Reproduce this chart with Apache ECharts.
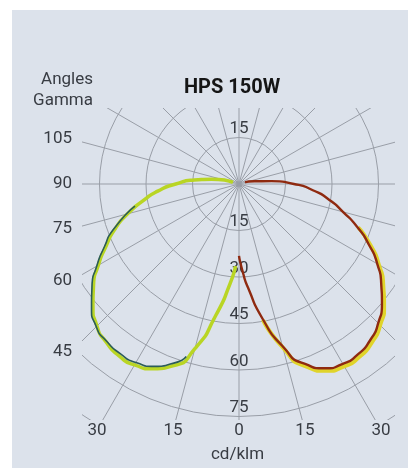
<!DOCTYPE html>
<html>
<head>
<meta charset="utf-8">
<script src="https://cdn.jsdelivr.net/npm/echarts@6/dist/echarts.min.js"></script>
<style>
    html, body { margin: 0; padding: 0; background: #ffffff; }
    #main { width: 408px; height: 468px; }
</style>
</head>
<body>
<div id="main"></div>
<script>
// gamma = angle from nadir (deg), values in cd/klm
var leftGamma  = [105, 100, 95, 90, 85, 80, 75, 70, 65, 60, 55, 50, 45, 40, 35, 30, 25, 20, 15, 10, 5, 2.5];
var leftMain   = [2, 9, 14.5, 20.4, 26.3, 31.5, 37.2, 42.6, 47.3, 52.4, 57.3, 61.5, 64.8, 66.6, 67.6, 67.4, 65.8, 62.4, 55, 43, 32, 26.5];
var leftDarkGamma = [78, 70, 65, 60, 55, 50, 45, 40, 35, 30, 25, 20, 17];
var leftDark      = [34.3, 43.2, 47.9, 53.0, 57.9, 62.1, 65.1, 66.3, 66.8, 66.5, 64.9, 61.5, 58.2];

var rightGamma = [105, 100, 95, 90, 85, 80, 75, 70, 65, 60, 55, 50, 45, 40, 35, 30, 25, 20, 15, 10, 5, 2.5, 0];
var rightMain  = [2, 5, 10.5, 17.7, 24.1, 29.6, 34.7, 40.6, 46.2, 51.5, 56.0, 60.2, 63.5, 65.8, 67.0, 67.0, 65.6, 61.7, 54.1, 44.3, 33.6, 28.5, 23.2];
var rightHaloGamma = [70, 65, 60, 55, 50, 45, 40, 35, 30, 25, 20, 15, 10];
var rightHalo      = [40.9, 46.8, 52.1, 56.8, 61.1, 64.4, 66.7, 67.9, 67.9, 66.5, 62.5, 54.6, 44.5];

// tick labels
var radiusTicks  = [15, 30, 45, 60, 75];
var leftAngles   = [105, 90, 75, 60, 45];      // "Angles Gamma" column
var bottomAngles = [-30, -15, 0, 15, 30];      // row above cd/klm

// layout
var CX = 239, CY = 184, PX = 3.1;              // centre, px per cd/klm
var RMAX = 90;
var BOX = { left: 82, top: 108, right: 395, bottom: 420 };  // grid is cut to this box
var BG = '#dce2eb';
var TXT = '#383c43';
var GRID = '#999ea7';
var COL_X = (CX - 71) / PX;                    // where left labels sit
var ROW_Y = (430 - CY) / PX;                   // where bottom labels sit

var rad = Math.PI / 180;
var leftPos = leftAngles.map(function (g) { return -COL_X / Math.tan(g * rad); });
var bottomPos = bottomAngles.map(function (g) { return ROW_Y * Math.tan(g * rad); });

function nearest(list, v) {
    var best = 0;
    for (var i = 1; i < list.length; i++) {
        if (Math.abs(list[i] - v) < Math.abs(list[best] - v)) best = i;
    }
    return best;
}

var chartDom = document.getElementById('main');
var myChart = echarts.init(chartDom, null, { renderer: 'canvas' });
var option;

var font = 'Roboto, "DejaVu Sans", sans-serif';

option = {
    backgroundColor: BG,
    animation: false,
    title: {
        text: 'HPS 150W',
        left: 184,
        top: 78,
        padding: 0,
        z: 20,
        textStyle: { fontFamily: font, fontSize: 20, fontWeight: 'bold', color: '#151515' }
    },
    polar: [
        { center: [CX, CY], radius: RMAX * PX },
        { center: [CX, CY], radius: RMAX * PX }
    ],
    angleAxis: [
        {
            polarIndex: 0,
            type: 'value',
            min: 0,
            max: 360,
            interval: 15,
            startAngle: 270,
            clockwise: true,
            z: 1,
            axisLine: { show: false },
            axisTick: { show: false },
            axisLabel: { show: false },
            splitLine: { show: true, lineStyle: { color: GRID, width: 1 } }
        },
        {
            polarIndex: 1,
            type: 'value',
            min: 0,
            max: 360,
            startAngle: 90,
            show: false
        }
    ],
    radiusAxis: [
        {
            polarIndex: 0,
            type: 'value',
            min: 0,
            max: RMAX,
            interval: 15,
            z: 1,
            axisLine: { show: false },
            axisTick: { show: false },
            splitLine: { show: true, lineStyle: { color: GRID, width: 1 } },
            axisLabel: {
                margin: 0,
                align: 'center',
                verticalAlign: 'bottom',
                fontFamily: font,
                fontSize: 17,
                color: TXT,
                formatter: function (v) { return radiusTicks.indexOf(v) >= 0 ? String(v) : ''; }
            }
        },
        {
            polarIndex: 1,
            type: 'value',
            min: 0,
            max: RMAX,
            interval: 15,
            z: 1,
            axisLine: { show: false },
            axisTick: { show: false },
            splitLine: { show: false },
            axisLabel: {
                margin: 0,
                align: 'center',
                verticalAlign: 'bottom',
                fontFamily: font,
                fontSize: 17,
                color: TXT,
                formatter: function (v) { return v === radiusTicks[0] ? String(v) : ''; }
            }
        }
    ],
    // invisible cartesian frame, only used to place the gamma labels
    grid: {
        left: 80,
        top: BOX.top,
        right: 408 - BOX.right,
        bottom: 468 - BOX.bottom,
        outerBoundsMode: 'none'
    },
    xAxis: {
        type: 'value',
        min: (80 - CX) / PX,
        max: (BOX.right - CX) / PX,
        z: 20,
        axisLine: { show: false },
        axisTick: { show: false },
        splitLine: { show: false },
        axisLabel: {
            customValues: bottomPos,
            margin: 2,
            fontFamily: font,
            fontSize: 17,
            color: TXT,
            formatter: function (v) { return String(Math.abs(bottomAngles[nearest(bottomPos, v)])); }
        },
        name: 'cd/klm',
        nameLocation: 'middle',
        nameGap: 26,
        nameTextStyle: { fontFamily: font, fontSize: 17, color: TXT }
    },
    yAxis: {
        type: 'value',
        min: -(BOX.bottom - CY) / PX,
        max: (CY - BOX.top) / PX,
        z: 20,
        axisLine: { show: false },
        axisTick: { show: false },
        splitLine: { show: false },
        axisLabel: {
            customValues: leftPos,
            margin: 8,
            fontFamily: font,
            fontSize: 17,
            color: TXT,
            formatter: function (v) { return String(leftAngles[nearest(leftPos, v)]); }
        }
    },
    graphic: [
        // covers that cut the polar grid to its box
        { type: 'rect', z: 5, silent: true, shape: { x: 0, y: 0, width: 408, height: BOX.top }, style: { fill: BG } },
        { type: 'rect', z: 5, silent: true, shape: { x: 0, y: BOX.top, width: BOX.left, height: BOX.bottom - BOX.top }, style: { fill: BG } },
        { type: 'rect', z: 5, silent: true, shape: { x: BOX.right, y: BOX.top, width: 408 - BOX.right, height: BOX.bottom - BOX.top }, style: { fill: BG } },
        { type: 'rect', z: 5, silent: true, shape: { x: 0, y: BOX.bottom, width: 408, height: 468 - BOX.bottom }, style: { fill: BG } },
        // white margin of the scan
        { type: 'rect', z: 30, silent: true, shape: { x: 0, y: 0, width: 12, height: 468 }, style: { fill: '#ffffff' } },
        { type: 'rect', z: 30, silent: true, shape: { x: 0, y: 0, width: 408, height: 10 }, style: { fill: '#ffffff' } },
        {
            type: 'text', z: 20, x: 93, y: 80,
            style: { text: 'Angles', align: 'right', verticalAlign: 'middle', font: '17px ' + font, fill: TXT }
        },
        {
            type: 'text', z: 20, x: 93, y: 101,
            style: { text: 'Gamma', align: 'right', verticalAlign: 'middle', font: '17px ' + font, fill: TXT }
        }
    ],
    series: [
        {
            name: 'right halo',
            type: 'line',
            coordinateSystem: 'polar',
            polarIndex: 0,
            smooth: 0.7,
            showSymbol: false,
            z: 10,
            lineStyle: { color: '#e0d42a', width: 4 },
            data: rightHaloGamma.map(function (g, i) { return [rightHalo[i], 360 - g]; })
        },
        {
            name: 'right',
            type: 'line',
            coordinateSystem: 'polar',
            polarIndex: 0,
            smooth: 0.7,
            showSymbol: false,
            z: 11,
            lineStyle: { color: '#8f2a10', width: 2.4 },
            data: rightGamma.map(function (g, i) { return [rightMain[i], 360 - g]; })
        },
        {
            name: 'left',
            type: 'line',
            coordinateSystem: 'polar',
            polarIndex: 0,
            smooth: 0.7,
            showSymbol: false,
            z: 10,
            lineStyle: { color: '#b9d524', width: 3.5 },
            data: leftGamma.map(function (g, i) { return [leftMain[i], g]; })
        },
        {
            name: 'left dark',
            type: 'line',
            coordinateSystem: 'polar',
            polarIndex: 0,
            smooth: 0.7,
            showSymbol: false,
            z: 11,
            lineStyle: { color: '#2b5c58', width: 1.6 },
            data: leftDarkGamma.map(function (g, i) { return [leftDark[i], g]; })
        }
    ]
};

option && myChart.setOption(option);
</script>
</body>
</html>
